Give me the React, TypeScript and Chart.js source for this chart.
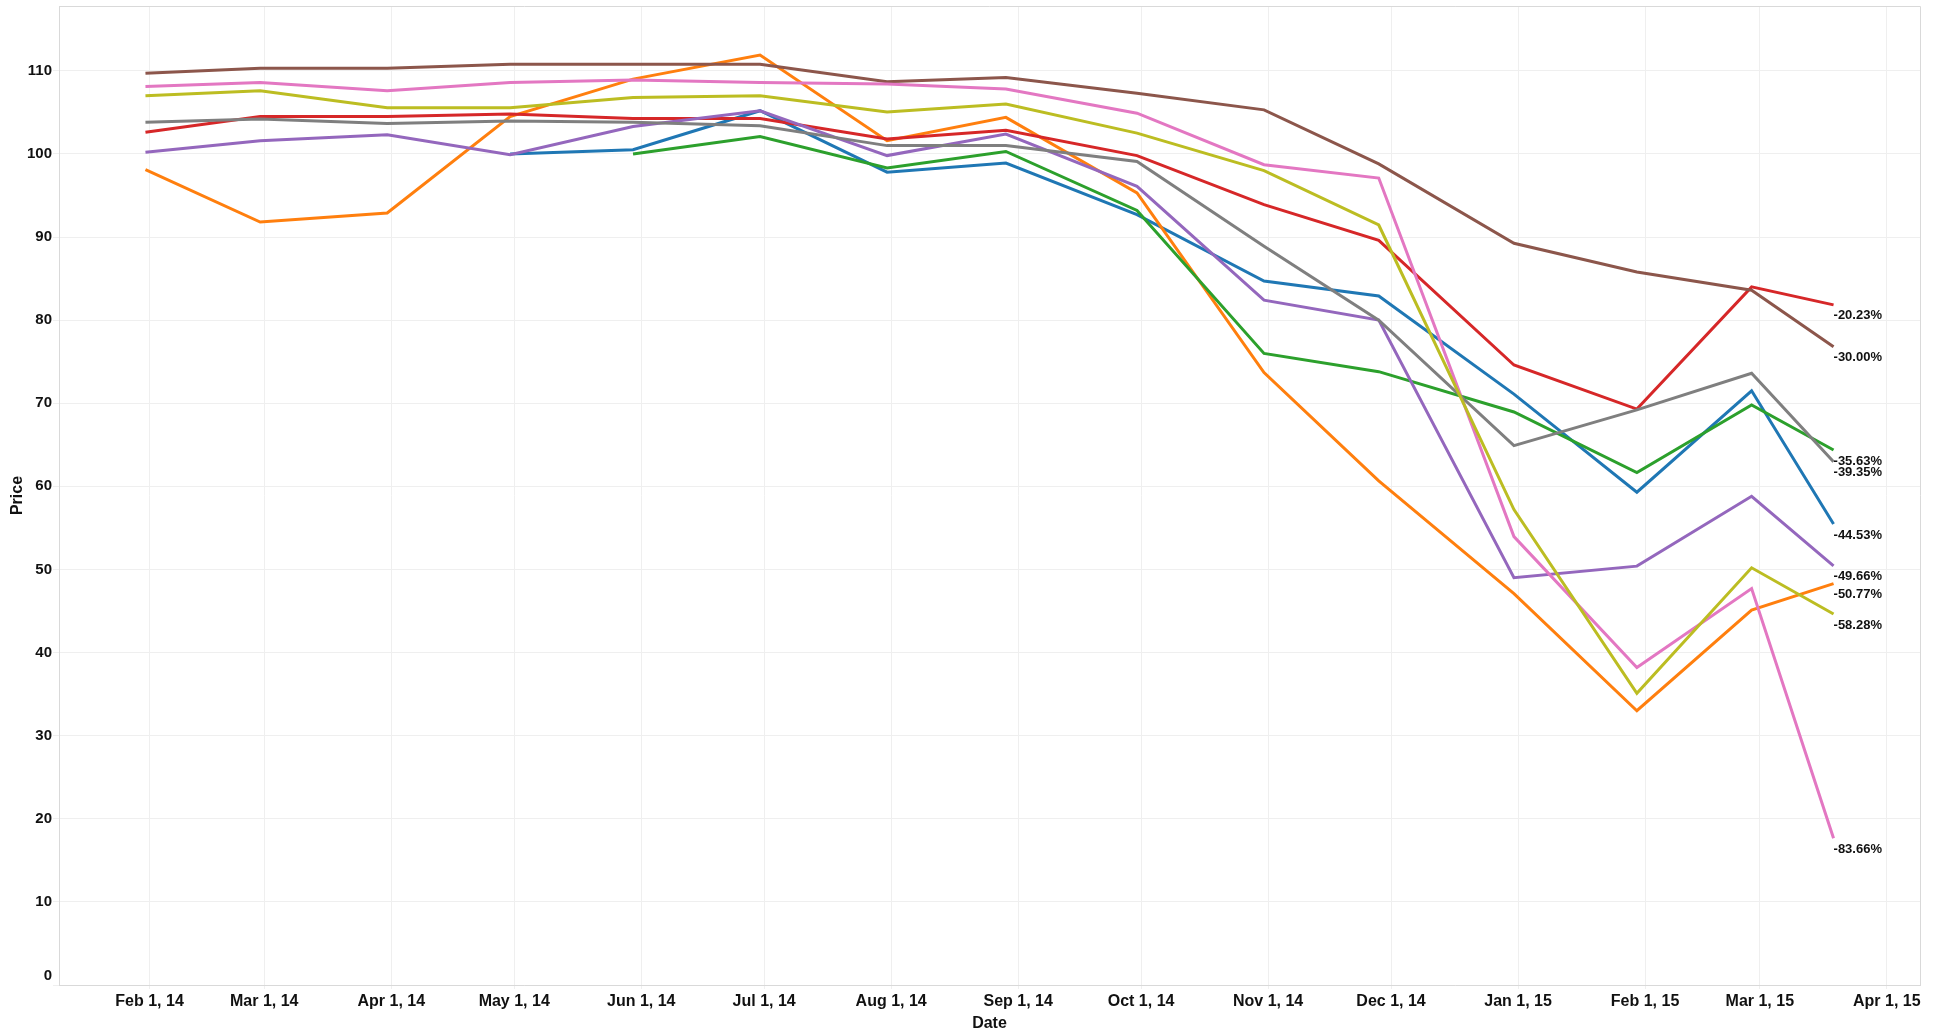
import React, { useEffect, useRef } from "react";
import { Chart, registerables } from "chart.js";

Chart.register(...registerables);

// Observation dates (month-end trading days)
const dates = [
  "2014-01-31", "2014-02-28", "2014-03-31", "2014-04-30", "2014-05-30",
  "2014-06-30", "2014-07-31", "2014-08-29", "2014-09-30", "2014-10-31",
  "2014-11-28", "2014-12-31", "2015-01-30", "2015-02-27", "2015-03-19",
];

const seriesBlue = [null, null, null, 100.0, 100.5, 105.2, 97.8, 98.9, 92.7, 84.7, 82.9, 71.1, 59.3, 71.5, 55.47];
const seriesOrange = [98.1, 91.8, 92.9, 104.5, 109.0, 111.9, 101.6, 104.4, 95.3, 73.7, 60.65, 47.1, 33.0, 45.1, 48.29];
const seriesGreen = [null, null, null, null, 100.0, 102.1, 98.3, 100.3, 93.2, 76.0, 73.8, 68.95, 61.65, 69.8, 64.37];
const seriesRed = [102.6, 104.5, 104.5, 104.8, 104.25, 104.25, 101.8, 102.85, 99.8, 93.9, 89.6, 74.6, 69.3, 84.0, 81.84];
const seriesPurple = [100.2, 101.6, 102.3, 99.9, 103.3, 105.2, 99.8, 102.4, 96.1, 82.4, 80.0, 49.0, 50.4, 58.8, 50.44];
const seriesBrown = [109.7, 110.3, 110.3, 110.8, 110.8, 110.8, 108.7, 109.2, 107.3, 105.3, 98.8, 89.25, 85.8, 83.6, 76.79];
const seriesPink = [108.1, 108.6, 107.6, 108.6, 108.9, 108.6, 108.4, 107.8, 104.9, 98.7, 97.1, 53.95, 38.2, 47.7, 17.66];
const seriesGray = [103.8, 104.2, 103.65, 103.97, 103.8, 103.4, 101.0, 101.0, 99.1, 88.9, 80.0, 64.9, 69.2, 73.6, 62.95];
const seriesOlive = [107.0, 107.6, 105.57, 105.57, 106.8, 107.0, 105.05, 106.0, 102.5, 98.0, 91.45, 57.2, 35.1, 50.2, 44.64];

const seriesValues = [seriesBlue, seriesOrange, seriesGreen, seriesRed, seriesPurple, seriesBrown, seriesPink, seriesGray, seriesOlive];
const seriesColors = ["#1f77b4", "#ff7f0e", "#2ca02c", "#d62728", "#9467bd", "#8c564b", "#e377c2", "#7f7f7f", "#bcbd22"];
const endLabels = ["-44.53%", "-50.77%", "-35.63%", "-20.23%", "-49.66%", "-30.00%", "-83.66%", "-39.35%", "-58.28%"];

const xTickDates = [
  "2014-02-01", "2014-03-01", "2014-04-01", "2014-05-01", "2014-06-01",
  "2014-07-01", "2014-08-01", "2014-09-01", "2014-10-01", "2014-11-01",
  "2014-12-01", "2015-01-01", "2015-02-01", "2015-03-01", "2015-04-01",
];
const yTicks = [0, 10, 20, 30, 40, 50, 60, 70, 80, 90, 100, 110];
const monthNames = ["Jan", "Feb", "Mar", "Apr", "May", "Jun", "Jul", "Aug", "Sep", "Oct", "Nov", "Dec"];

const FONT = '"Liberation Sans", Arial, Helvetica, sans-serif';

function dayNum(s: string): number {
  const [y, m, d] = s.split("-").map(Number);
  return Date.UTC(y, m - 1, d) / 86400000;
}
function fmtDay(v: number): string {
  const dt = new Date(Math.round(v) * 86400000);
  const yy = String(dt.getUTCFullYear() % 100).padStart(2, "0");
  return `${monthNames[dt.getUTCMonth()]} ${dt.getUTCDate()}, ${yy}`;
}

const X_MIN = dayNum("2014-02-01") - 22.1;
const X_MAX = dayNum("2015-04-01") + 8.1;

const endLabelPlugin = {
  id: "endLabels",
  afterDatasetsDraw(chart: any) {
    const ctx = chart.ctx;
    ctx.save();
    ctx.font = `bold 13px ${FONT}`;
    ctx.fillStyle = "#111";
    ctx.textAlign = "left";
    ctx.textBaseline = "middle";
    chart.data.datasets.forEach((_ds: any, i: number) => {
      const meta = chart.getDatasetMeta(i);
      const pt = meta.data[meta.data.length - 1];
      if (pt) ctx.fillText(endLabels[i], pt.x, pt.y + 11);
    });
    // bottom-most y tick label is nudged up inside the plot edge
    const y = chart.scales.y;
    ctx.font = `bold 15px ${FONT}`;
    ctx.textAlign = "right";
    ctx.fillText(String(yTicks[0]), y.right - 7, y.getPixelForValue(yTicks[0]) - 9);
    ctx.restore();
  },
};

const borderPlugin = {
  id: "plotBorder",
  beforeDatasetsDraw(chart: any) {
    const { ctx, chartArea } = chart;
    ctx.save();
    ctx.strokeStyle = "#d9d9d9";
    ctx.lineWidth = 1;
    ctx.beginPath();
    ctx.moveTo(chartArea.left, chartArea.top + 0.5);
    ctx.lineTo(chartArea.right + 0.5, chartArea.top + 0.5);
    ctx.lineTo(chartArea.right + 0.5, chartArea.bottom);
    ctx.stroke();
    ctx.restore();
  },
};

export default function App() {
  const ref = useRef<HTMLCanvasElement | null>(null);

  useEffect(() => {
    if (!ref.current) return;
    const datasets = seriesValues.map((vals, i) => ({
      label: `Series ${i + 1}`,
      data: dates.map((d, j) => ({ x: dayNum(d), y: vals[j] })),
      borderColor: seriesColors[i],
      backgroundColor: seriesColors[i],
      borderWidth: 3,
      pointRadius: 0,
      tension: 0,
      fill: false,
      order: seriesValues.length - i,
    }));

    const chart = new Chart(ref.current, {
      type: "line",
      data: { datasets },
      plugins: [borderPlugin, endLabelPlugin],
      options: {
        animation: false,
        responsive: false,
        maintainAspectRatio: false,
        layout: { padding: { top: 6, right: 20, left: 0, bottom: 0 } },
        plugins: {
          legend: { display: false },
          tooltip: { enabled: false },
        },
        scales: {
          x: {
            type: "linear",
            min: X_MIN,
            max: X_MAX,
            afterBuildTicks: (scale: any) => {
              scale.ticks = xTickDates.map((d) => ({ value: dayNum(d) }));
            },
            afterFit: (scale: any) => {
              scale.height = 50;
              scale.paddingLeft = 0;
              scale.paddingRight = 0;
            },
            ticks: {
              autoSkip: false,
              maxRotation: 0,
              padding: 3,
              color: "#111",
              font: { family: FONT, size: 16, weight: "bold" },
              callback: (v: any) => fmtDay(Number(v)),
            },
            grid: { color: "#efefef", tickLength: 4, lineWidth: 1 },
            border: { display: true, color: "#d9d9d9" },
            title: {
              display: true,
              text: "Date",
              color: "#111",
              font: { family: FONT, size: 16, weight: "bold" },
              padding: { top: 0, bottom: 2 },
            },
          },
          y: {
            type: "linear",
            min: 0,
            max: 117.8,
            afterBuildTicks: (scale: any) => {
              scale.ticks = yTicks.map((v) => ({ value: v }));
            },
            afterFit: (scale: any) => {
              scale.width = 59;
              scale.paddingTop = 0;
              scale.paddingBottom = 0;
            },
            ticks: {
              padding: 1,
              color: "#111",
              font: { family: FONT, size: 15, weight: "bold" },
              callback: (v: any) => (Number(v) === yTicks[0] ? "" : String(v)),
            },
            grid: { color: "#efefef", tickLength: 6, lineWidth: 1 },
            border: { display: true, color: "#d9d9d9" },
            title: {
              display: true,
              text: "Price",
              color: "#111",
              font: { family: FONT, size: 16, weight: "bold" },
              padding: { top: 8, bottom: 0 },
            },
          },
        },
      },
    });
    return () => chart.destroy();
  }, []);

  return (
    <div style={{ position: "absolute", left: 0, top: 0, width: 1940, height: 1035, background: "#fff" }}>
      <canvas ref={ref} width={1940} height={1035} style={{ display: "block", width: 1940, height: 1035 }} />
    </div>
  );
}
